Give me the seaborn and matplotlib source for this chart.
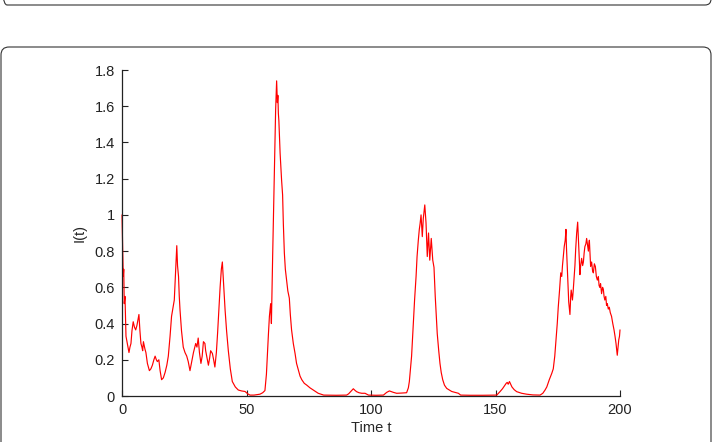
import numpy as np
import pandas as pd
import matplotlib
matplotlib.use("Agg")
import matplotlib.pyplot as plt
import seaborn as sns
from matplotlib.patches import FancyBboxPatch

# Time axis
t_values = [
    0, 0.3, 0.5, 0.7, 0.9, 1.2, 1.6, 2.0, 2.4, 2.8, 3.2, 3.6, 4.0, 4.5, 5.0, 5.5,
    6.0, 6.4, 6.8, 7.2, 7.6, 8.0, 8.3, 8.6, 8.9, 9.2, 9.6, 10.2, 11.0, 11.6, 12.2,
    12.8, 13.3, 13.8, 14.2, 14.8, 15.3, 15.9, 16.6, 17.3, 18.0, 18.6, 19.3, 19.9,
    20.5, 21.0, 21.5, 22.0, 22.3, 22.7, 23.0, 23.3, 23.9, 24.6, 25.3, 26.0, 26.6,
    27.3, 28.0, 28.7, 29.6, 30.1, 30.6, 31.1, 31.7, 32.2, 32.7, 33.3, 33.6, 34.0,
    34.7, 35.2, 35.6, 36.3, 36.8, 37.3, 37.9, 38.4, 38.9, 39.4, 39.9, 40.3, 40.8,
    41.4, 42.0, 42.7, 43.5, 44.3, 45.5, 46.7, 48.0, 49.4, 50.5, 51.4, 53.0, 55.4,
    56.5, 57.4, 58.0, 58.4, 58.8, 59.2, 59.7, 60.0, 60.5, 61.2, 61.7, 62.1, 62.4,
    62.6, 62.8, 63.0, 63.5, 64.1, 64.5, 64.8, 65.2, 65.6, 66.1, 66.6, 67.2, 67.6,
    68.1, 68.8, 69.5, 70.1, 70.8, 71.5, 72.2, 73.2, 74.2, 75.5, 76.8, 78.8, 81.0,
    86.0, 90.2, 91.0, 91.8, 92.9, 93.5, 94.2, 95.2, 96.3, 97.6, 99.0, 102.0, 105.0,
    106.3, 107.4, 108.2, 109.0, 110.3, 112.0, 114.3, 115.0, 115.4, 115.9, 116.3,
    117.0, 117.5, 118.1, 118.5, 119.0, 119.4, 119.7, 120.1, 120.6, 121.0, 121.3,
    121.6, 122.1, 122.6, 123.1, 123.6, 124.2, 124.8, 125.3, 125.8, 126.2, 126.6,
    127.2, 127.7, 128.2, 128.8, 129.5, 130.4, 132.4, 135.1, 136.0, 140.0, 145.0,
    150.5, 151.8, 152.8, 153.8, 154.3, 154.7, 155.1, 155.6, 156.1, 156.6, 157.5,
    158.5, 160.5, 162.5, 165.0, 167.9, 169.0, 169.9, 170.6, 171.6, 172.6, 173.2,
    173.8, 174.3, 174.8, 175.2, 175.7, 176.2, 176.6, 176.9, 177.3, 177.6, 178.0,
    178.3, 178.5, 178.8, 179.0, 179.2, 179.4, 179.6, 179.9, 180.2, 180.4, 180.7,
    180.9, 181.2, 181.5, 181.9, 182.2, 182.6, 183.0, 183.2, 183.5, 183.7, 183.9,
    184.2, 184.6, 185.0, 185.3, 185.6, 185.9, 186.3, 186.6, 187.0, 187.3, 187.5,
    187.7, 188.0, 188.2, 188.6, 189.0, 189.3, 189.7, 190.1, 190.5, 190.9, 191.3,
    191.6, 191.9, 192.2, 192.6, 193.0, 193.3, 193.6, 193.9, 194.3, 194.6, 194.9,
    195.3, 195.7, 196.1, 196.6, 197.1, 197.6, 198.0, 198.4, 198.7, 198.9, 199.2,
    199.5, 199.8, 200.0,
]

# I(t) values at those times
i_values = [
    1.0, 0.78, 0.66, 0.70, 0.51, 0.55, 0.33, 0.30, 0.27, 0.24, 0.27, 0.29, 0.36,
    0.41, 0.38, 0.365, 0.39, 0.42, 0.45, 0.36, 0.29, 0.27, 0.25, 0.30, 0.28, 0.26,
    0.24, 0.18, 0.14, 0.15, 0.17, 0.20, 0.22, 0.20, 0.19, 0.20, 0.14, 0.09, 0.10,
    0.13, 0.17, 0.22, 0.33, 0.44, 0.49, 0.53, 0.68, 0.83, 0.72, 0.66, 0.55, 0.475,
    0.36, 0.27, 0.24, 0.22, 0.19, 0.14, 0.19, 0.24, 0.29, 0.27, 0.32, 0.24, 0.18,
    0.22, 0.30, 0.29, 0.25, 0.22, 0.17, 0.21, 0.25, 0.235, 0.20, 0.16, 0.24, 0.35,
    0.48, 0.60, 0.70, 0.74, 0.62, 0.475, 0.36, 0.25, 0.15, 0.08, 0.05, 0.033,
    0.028, 0.025, 0.012, 0.005, 0.005, 0.01, 0.018, 0.03, 0.12, 0.235, 0.34, 0.44,
    0.51, 0.40, 0.77, 1.25, 1.58, 1.74, 1.62, 1.66, 1.56, 1.52, 1.34, 1.19, 1.11,
    0.95, 0.79, 0.70, 0.64, 0.58, 0.54, 0.45, 0.365, 0.29, 0.235, 0.18, 0.145,
    0.11, 0.09, 0.07, 0.06, 0.045, 0.033, 0.015, 0.005, 0.004, 0.005, 0.012,
    0.024, 0.04, 0.032, 0.024, 0.018, 0.015, 0.015, 0.005, 0.004, 0.005, 0.02,
    0.028, 0.024, 0.02, 0.015, 0.016, 0.018, 0.045, 0.08, 0.16, 0.22, 0.40, 0.53,
    0.66, 0.77, 0.86, 0.92, 0.95, 1.0, 0.88, 0.98, 1.02, 1.055, 0.955, 0.77, 0.90,
    0.75, 0.87, 0.75, 0.71, 0.55, 0.45, 0.345, 0.25, 0.18, 0.13, 0.09, 0.06,
    0.042, 0.025, 0.015, 0.005, 0.004, 0.004, 0.005, 0.024, 0.04, 0.06, 0.07,
    0.075, 0.065, 0.08, 0.065, 0.05, 0.035, 0.024, 0.015, 0.01, 0.006, 0.005,
    0.015, 0.033, 0.05, 0.09, 0.125, 0.15, 0.22, 0.31, 0.40, 0.49, 0.58, 0.68,
    0.66, 0.72, 0.78, 0.825, 0.86, 0.92, 0.82, 0.72, 0.64, 0.585, 0.52, 0.49,
    0.45, 0.55, 0.585, 0.55, 0.53, 0.58, 0.64, 0.72, 0.81, 0.90, 0.96, 0.90, 0.82,
    0.74, 0.67, 0.72, 0.76, 0.72, 0.74, 0.79, 0.825, 0.84, 0.87, 0.83, 0.80, 0.84,
    0.86, 0.78, 0.715, 0.74, 0.69, 0.68, 0.73, 0.715, 0.66, 0.64, 0.66, 0.61,
    0.60, 0.62, 0.565, 0.60, 0.59, 0.55, 0.53, 0.55, 0.50, 0.51, 0.48, 0.49, 0.46,
    0.44, 0.40, 0.365, 0.33, 0.29, 0.25, 0.225, 0.27, 0.31, 0.33, 0.365,
]

x_ticks = [0, 50, 100, 150, 200]
y_ticks = [0, 0.2, 0.4, 0.6, 0.8, 1.0, 1.2, 1.4, 1.6, 1.8]
y_tick_labels = ["0", "0.2", "0.4", "0.6", "0.8", "1", "1.2", "1.4", "1.6", "1.8"]

df = pd.DataFrame({"t": t_values, "I": i_values})

sns.set_style("ticks")
plt.rcParams["font.family"] = ["Liberation Sans", "DejaVu Sans"]

fig = plt.figure(figsize=(7.15, 4.42), dpi=100)
ax = fig.add_axes([122 / 715, 46 / 442, 498 / 715, 326 / 442])

sns.lineplot(data=df, x="t", y="I", color="#ff0000", linewidth=0.85,
             estimator=None, sort=False, ax=ax)
for line in ax.lines:
    line.set_clip_on(False)

ax.set_xlim(0, 200)
ax.set_ylim(0, 1.8)
ax.set_xticks(x_ticks)
ax.set_xticklabels([str(v) for v in x_ticks])
ax.set_yticks(y_ticks)
ax.set_yticklabels(y_tick_labels)
ax.tick_params(direction="in", length=4, width=0.8, colors="#222222",
               labelsize=10.5, pad=5)
ax.set_xlabel("Time t", fontsize=10.5)
ax.set_ylabel("I(t)", fontsize=10.5)
ax.xaxis.set_label_coords(0.5, -25 / 326)
ax.yaxis.set_label_coords(-35 / 498, 0.5)
sns.despine(ax=ax)
for side in ["left", "bottom"]:
    ax.spines[side].set_linewidth(0.9)
    ax.spines[side].set_color("#222222")

# rounded panel frames (in inches, so the corners stay round)
top_box = FancyBboxPatch((0.01, 4.37), 7.10, 0.5,
                         boxstyle="round,pad=0,rounding_size=0.06",
                         transform=fig.dpi_scale_trans, fill=False,
                         edgecolor="#333333", linewidth=0.8)
main_box = FancyBboxPatch((0.01, -0.5), 7.10, 4.45,
                          boxstyle="round,pad=0,rounding_size=0.08",
                          transform=fig.dpi_scale_trans, fill=False,
                          edgecolor="#333333", linewidth=0.8)
fig.patches.extend([top_box, main_box])

fig.savefig("out.png", dpi=100)
